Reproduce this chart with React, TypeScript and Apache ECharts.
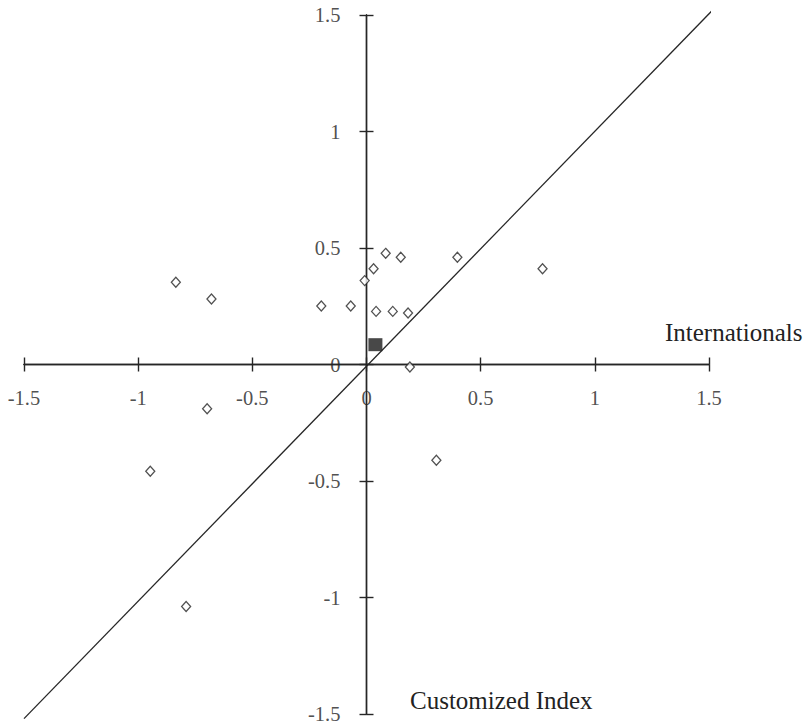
import React, { useEffect, useRef } from "react";
import * as echarts from "echarts";

const internationalsX = [-0.835, -0.679, -0.198, -0.069, -0.008, 0.031, 0.084, 0.15, 0.398, 0.771, 0.042, 0.115, 0.182, 0.19, -0.698, -0.947, -0.79, 0.306];
const customizedY = [0.353, 0.281, 0.251, 0.251, 0.36, 0.411, 0.477, 0.46, 0.46, 0.411, 0.228, 0.228, 0.221, -0.011, -0.19, -0.458, -1.039, -0.411];
const averagePoint = [0.039, 0.085];
const diagonalX = [-1.5, 1.515];
const diagonalY = [-1.52, 1.52];
const tickValues = [-1.5, -1, -0.5, 0, 0.5, 1, 1.5];
const axisMin = -1.5;
const axisMax = 1.5;
const axisStep = 0.5;

const FONT = "'Liberation Serif', 'Times New Roman', serif";
const INK = "#262626";

export default function App() {
  const ref = useRef<HTMLDivElement>(null);
  useEffect(() => {
    document.body.style.margin = "0";
    const chart = echarts.init(ref.current!, undefined, { renderer: "svg" });
    const baseAxis = (dim: "x" | "y", idx: number) => ({
      type: "value",
      min: axisMin,
      max: axisMax,
      interval: axisStep,
      position: dim === "x" ? "bottom" : "left",
      splitLine: { show: false },
      axisLine: { show: true, onZero: true, onZeroAxisIndex: 0, lineStyle: { color: INK, width: 1.4 } },
      axisTick: { show: true, inside: idx === 1, length: 7, lineStyle: { color: INK, width: 1.4 } },
      axisLabel: { show: false },
    });
    const labelStyle = { color: "#222", fontFamily: FONT, fontSize: 20.5 };
    chart.setOption({
      animation: false,
      backgroundColor: "#fff",
      grid: { left: 24, right: 94, top: 15, bottom: 11, containLabel: false, outerBoundsMode: "none" },
      xAxis: [baseAxis("x", 0), baseAxis("x", 1)],
      yAxis: [baseAxis("y", 0), baseAxis("y", 1)],
      series: [
        {
          type: "line",
          data: diagonalX.map((x, i) => [x, diagonalY[i]]),
          showSymbol: false,
          clip: false,
          lineStyle: { color: INK, width: 1.3 },
          silent: true,
        },
        {
          type: "scatter",
          data: internationalsX.map((x, i) => [x, customizedY[i]]),
          symbol: "diamond",
          symbolSize: [9, 10],
          itemStyle: { color: "#fff", borderColor: INK, borderWidth: 1.3 },
        },
        {
          type: "scatter",
          data: [averagePoint],
          symbol: "rect",
          symbolSize: [14, 13],
          itemStyle: { color: "#1a1a1a" },
        },
        {
          type: "scatter",
          silent: true,
          data: tickValues.map((v) => [v, 0]),
          symbolSize: 0.01,
          itemStyle: { color: "transparent" },
          label: {
            show: true,
            position: "bottom",
            distance: 23,
            formatter: (p: any) => String(p.value[0]),
            ...labelStyle,
          },
        },
        {
          type: "scatter",
          silent: true,
          data: tickValues.map((v) => [0, v]),
          symbolSize: 0.01,
          itemStyle: { color: "transparent" },
          label: {
            show: true,
            position: "left",
            distance: 26,
            formatter: (p: any) => String(p.value[1]),
            ...labelStyle,
          },
        },
      ],
      graphic: [
        {
          type: "text",
          left: 665,
          top: 320,
          style: { text: "Internationals", font: `25px ${FONT}`, fill: "#222" },
        },
        {
          type: "text",
          left: 410,
          top: 688,
          style: { text: "Customized Index", font: `25px ${FONT}`, fill: "#222" },
        },
      ],
    });
    return () => chart.dispose();
  }, []);
  return <div ref={ref} style={{ width: 803, height: 725 }} />;
}
